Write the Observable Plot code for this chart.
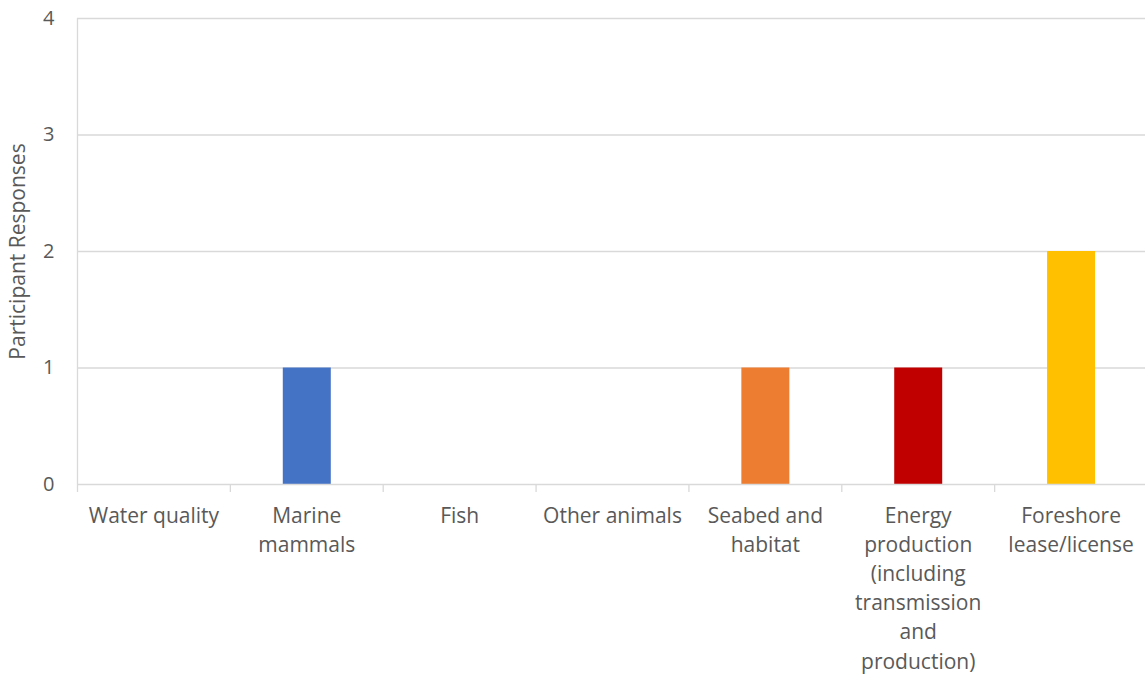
<!DOCTYPE html>
<html>
<head>
<meta charset="utf-8">
<script src="https://cdn.jsdelivr.net/npm/d3@7"></script>
<script src="https://cdn.jsdelivr.net/npm/@observablehq/plot@0.6"></script>
<style>
  html, body { margin: 0; padding: 0; background: #fff; overflow: hidden; }
  #chart { width: 1145px; height: 675px; }
</style>
</head>
<body>
<div id="chart"></div>
<script>
const categories = ["Water quality", "Marine mammals", "Fish", "Other animals", "Seabed and habitat", "Energy production (including transmission and production)", "Foreshore lease/license"];
const tickLabels = ["Water quality", "Marine\nmammals", "Fish", "Other animals", "Seabed and\nhabitat", "Energy\nproduction\n(including\ntransmission\nand\nproduction)", "Foreshore\nlease/license"];
const responses = [0, 1, 0, 0, 1, 1, 2];
const barColors = ["#A5A5A5", "#4472C4", "#70AD47", "#5B9BD5", "#ED7D31", "#C00000", "#FFC000"];
const yTicks = [0, 1, 2, 3, 4];

const data = categories.map((c, i) => ({category: c, value: responses[i], color: barColors[i], label: tickLabels[i]}));

const W = 1145, H = 675, ML = 77, MR = -2, MT = 18, MB = 191;
const step = (W - ML - MR) / categories.length;
const font = "'Open Sans', Lato, sans-serif";
const gray = "#595959";
const lineColor = "#D9D9D9";

const chart = Plot.plot({
  width: W,
  height: H,
  marginLeft: ML,
  marginRight: MR,
  marginTop: MT,
  marginBottom: MB,
  style: {fontFamily: font, fontSize: "20px", color: gray, background: "#fff", overflow: "hidden"},
  x: {domain: categories, paddingInner: 0.686, paddingOuter: 0.343, round: false, axis: null},
  y: {domain: [0, 4], ticks: yTicks, axis: null},
  marks: [
    Plot.ruleY(yTicks.filter(d => d > 0), {stroke: lineColor, strokeWidth: 1.3}),
    Plot.ruleX([categories[0]], {y1: 0, y2: 4, dx: -step / 2, stroke: lineColor, strokeWidth: 1.3}),
    Plot.ruleX(categories, {y1: 0, y2: 0, dx: -step / 2, insetBottom: -8, stroke: lineColor, strokeWidth: 1.3}),
    Plot.barY(data, {x: "category", y: "value", fill: "color", dx: 0.5}),
    Plot.ruleY([0], {stroke: lineColor, strokeWidth: 1.3}),
    Plot.axisY({ticks: yTicks, tickSize: 0, tickPadding: 23, tickFormat: d3.format("d"), fontSize: 20, fill: gray, label: null}),
    Plot.text(data, {x: "category", y: 0, text: "label", lineAnchor: "top", dy: 18, fontSize: 21, lineHeight: 1.385, fill: gray}),
    Plot.text(["Participant Responses"], {frameAnchor: "left", textAnchor: "middle", dx: -ML + 18, rotate: -90, fontSize: 21, fill: gray})
  ]
});
document.getElementById("chart").appendChild(chart);
</script>
</body>
</html>
